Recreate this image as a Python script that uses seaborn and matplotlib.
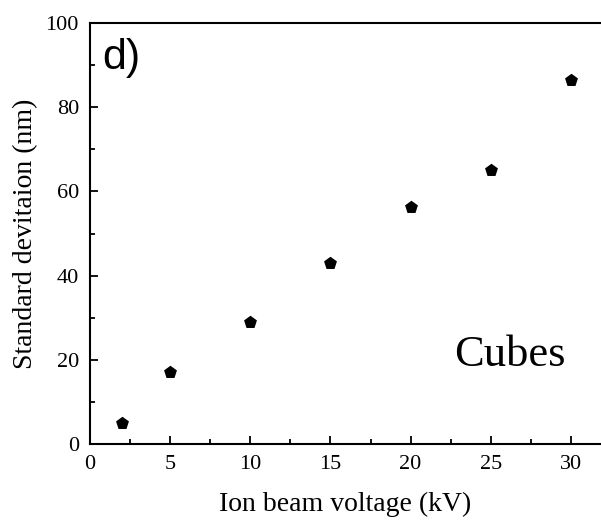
import matplotlib
matplotlib.use("Agg")
import matplotlib.pyplot as plt
import matplotlib.ticker as mticker
import seaborn as sns
import pandas as pd

# ── DATA ──────────────────────────────────────────────────────────────────────
voltage_kv = [2, 5, 10, 15, 20, 25, 30]
std_dev_nm = [5.0, 17.1, 29.0, 42.9, 56.3, 65.1, 86.4]

df = pd.DataFrame({"voltage": voltage_kv, "std": std_dev_nm})

# ── STYLE ─────────────────────────────────────────────────────────────────────
sns.set_theme(style="ticks")
plt.rcParams["font.family"] = ["Liberation Serif", "DejaVu Serif"]
plt.rcParams["text.color"] = "black"
plt.rcParams["axes.labelcolor"] = "black"

fig = plt.figure(figsize=(6.01, 5.23), dpi=100)
ax = fig.add_axes([90 / 601, 79 / 523, 511 / 601, 421 / 523])

sns.scatterplot(data=df, x="voltage", y="std", marker="p", s=95,
                color="black", edgecolor="black", linewidth=0, ax=ax,
                legend=False, zorder=3, clip_on=False)

ax.set_xlim(0, 511 / 16.03)
ax.set_ylim(0, 100)
ax.xaxis.set_major_locator(mticker.MultipleLocator(5))
ax.xaxis.set_minor_locator(mticker.MultipleLocator(2.5))
ax.yaxis.set_major_locator(mticker.MultipleLocator(20))
ax.yaxis.set_minor_locator(mticker.MultipleLocator(10))

ax.tick_params(which="major", direction="in", length=6, width=1.3,
               labelsize=16, colors="black", pad=8)
ax.tick_params(which="minor", direction="in", length=3.5, width=1.3,
               colors="black")
ax.tick_params(top=False, right=False, which="both")

for side in ["left", "bottom", "top"]:
    ax.spines[side].set_linewidth(1.5)
    ax.spines[side].set_color("black")
ax.spines["right"].set_visible(False)

ax.set_xlabel("Ion beam voltage (kV)", fontsize=20, labelpad=13)
ax.set_ylabel("Standard devitaion (nm)", fontsize=20, labelpad=5)

ax.text(0.023, 0.965, "d)", transform=ax.transAxes, fontsize=31,
        family=["Liberation Sans", "DejaVu Sans"], va="top", ha="left")
ax.text(0.713, 0.185, "Cubes", transform=ax.transAxes, fontsize=32,
        va="baseline", ha="left")

plt.savefig("out.png", dpi=100)
plt.close()
